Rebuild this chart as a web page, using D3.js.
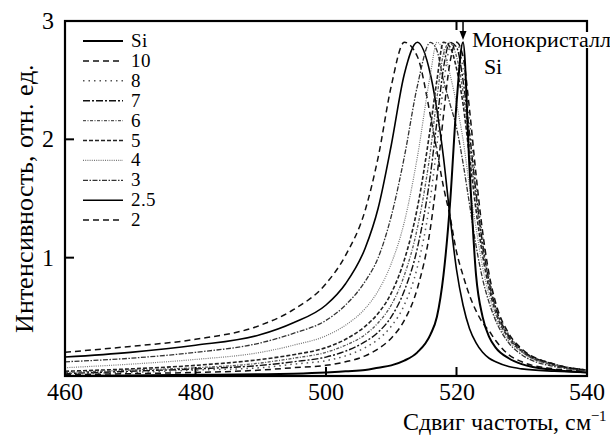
<!doctype html>
<html>
<head>
<meta charset="UTF-8">
<script src="https://cdn.jsdelivr.net/npm/d3@7"></script>
<style>
    @font-face { font-family: 'ChartSerif'; src: local('Liberation Serif'), local('LiberationSerif'), local('LiberationSerif-Regular'); }
    body { margin: 0; font-family: 'ChartSerif', 'Liberation Serif', 'Times New Roman', Times, serif; }
    svg, svg text, svg tspan { font-family: 'ChartSerif', 'Liberation Serif', 'Times New Roman', Times, serif !important; }
</style>
</head>
<body>
<svg class="t" width="610" height="435" style="font-family: 'Liberation Serif', serif"></svg>
<script>
    // frequency grid, cm^-1
    var shift = [460, 470, 480, 490, 495, 500, 503, 506, 508, 510, 512, 514, 516, 517, 518, 519, 520, 521, 522, 523, 524, 525, 526, 528, 530, 535, 540];

    var sSi  = [0.0, 0.005, 0.01, 0.015, 0.02, 0.03, 0.04, 0.05, 0.07, 0.09, 0.13, 0.2, 0.35, 0.5, 0.85, 1.45, 2.3, 2.82, 1.75, 0.85, 0.5, 0.33, 0.24, 0.15, 0.1, 0.05, 0.03];
    var s10  = [0.01, 0.02, 0.03, 0.05, 0.07, 0.09, 0.12, 0.17, 0.23, 0.32, 0.47, 0.74, 1.25, 1.68, 2.2, 2.65, 2.82, 2.7, 2.25, 1.7, 1.22, 0.86, 0.62, 0.36, 0.23, 0.1, 0.05];
    var s8   = [0.02, 0.03, 0.05, 0.07, 0.1, 0.13, 0.17, 0.24, 0.31, 0.42, 0.6, 0.92, 1.5, 1.95, 2.45, 2.78, 2.82, 2.6, 2.15, 1.62, 1.17, 0.83, 0.6, 0.35, 0.22, 0.1, 0.05];
    var s7   = [0.02, 0.04, 0.06, 0.09, 0.12, 0.16, 0.21, 0.29, 0.37, 0.5, 0.72, 1.08, 1.7, 2.15, 2.6, 2.82, 2.78, 2.5, 2.05, 1.55, 1.12, 0.8, 0.58, 0.34, 0.22, 0.1, 0.05];
    var s6   = [0.03, 0.05, 0.07, 0.11, 0.15, 0.2, 0.26, 0.35, 0.45, 0.6, 0.85, 1.25, 1.9, 2.35, 2.72, 2.82, 2.7, 2.4, 1.95, 1.5, 1.08, 0.78, 0.56, 0.33, 0.21, 0.09, 0.05];
    var s5   = [0.04, 0.06, 0.09, 0.14, 0.18, 0.24, 0.31, 0.42, 0.53, 0.7, 0.98, 1.42, 2.1, 2.5, 2.82, 2.78, 2.6, 2.3, 1.85, 1.4, 1.02, 0.74, 0.54, 0.32, 0.21, 0.09, 0.05];
    var s4   = [0.07, 0.1, 0.14, 0.2, 0.26, 0.34, 0.43, 0.57, 0.72, 0.95, 1.3, 1.85, 2.55, 2.82, 2.75, 2.55, 2.3, 2.0, 1.6, 1.25, 0.92, 0.68, 0.5, 0.3, 0.2, 0.09, 0.05];
    var s3   = [0.12, 0.15, 0.2, 0.28, 0.36, 0.47, 0.6, 0.8, 1.0, 1.35, 1.85, 2.45, 2.82, 2.75, 2.5, 2.3, 2.1, 1.8, 1.45, 1.1, 0.82, 0.62, 0.47, 0.28, 0.18, 0.08, 0.05];
    var s25  = [0.16, 0.2, 0.26, 0.35, 0.45, 0.6, 0.78, 1.08, 1.42, 1.95, 2.55, 2.82, 2.55, 2.25, 1.85, 1.35, 0.9, 0.6, 0.4, 0.28, 0.2, 0.15, 0.12, 0.08, 0.06, 0.04, 0.03];
    var s2   = [0.2, 0.25, 0.31, 0.43, 0.56, 0.78, 1.02, 1.4, 1.85, 2.45, 2.82, 2.7, 2.2, 1.9, 1.6, 1.35, 1.05, 0.85, 0.68, 0.55, 0.45, 0.38, 0.3, 0.18, 0.12, 0.06, 0.04];

    var labels = ['Si', '10', '8', '7', '6', '5', '4', '3', '2.5', '2'];
    var xTicks = [460, 480, 500, 520, 540];
    var yTicks = [1, 2, 3];

    var series = [sSi, s10, s8, s7, s6, s5, s4, s3, s25, s2];
    var styles = [
        {dash: null, w: 2, c: '#000'},
        {dash: '6,4', w: 1.5, c: '#111'},
        {dash: '1.5,4', w: 1.5, c: '#555'},
        {dash: '7,2,2,2', w: 1.4, c: '#111'},
        {dash: '3,1.5,1,1.5', w: 1.3, c: '#555'},
        {dash: '4,2', w: 1.6, c: '#222'},
        {dash: '1,1.2', w: 1.2, c: '#777'},
        {dash: '5,1.5,1.5,1.5', w: 1.3, c: '#333'},
        {dash: null, w: 1.6, c: '#000'},
        {dash: '6,4', w: 1.5, c: '#111'}
    ];

    var svg = d3.select('.t');
    var mL = 65, mR = 587, mT = 21, mB = 376;

    var x = d3.scaleLinear().domain([460, 540]).range([mL, mR]);
    var y = d3.scaleLinear().domain([0, 3]).range([mB, mT]);

    var line = d3.line()
        .x(function (d, i) { return x(shift[i]); })
        .y(function (d) { return y(d); })
        .curve(d3.curveMonotoneX);

    var plot = svg.append('g');
    // draw back to front so Si ends on top
    for (var i = series.length - 1; i >= 0; i--) {
        plot.append('path')
            .attr('d', line(series[i]))
            .attr('fill', 'none')
            .attr('stroke', styles[i].c)
            .attr('stroke-width', styles[i].w)
            .attr('stroke-dasharray', styles[i].dash);
    }

    // frame
    svg.append('rect')
        .attr('x', mL).attr('y', mT)
        .attr('width', mR - mL).attr('height', mB - mT)
        .attr('fill', 'none').attr('stroke', '#000').attr('stroke-width', 2.2);

    // inward ticks
    svg.append('g').selectAll('line').data(xTicks.slice(1, -1)).enter().append('line')
        .attr('x1', function (d) { return x(d); }).attr('x2', function (d) { return x(d); })
        .attr('y1', mB).attr('y2', mB - 9)
        .attr('stroke', '#000').attr('stroke-width', 2);
    svg.append('g').selectAll('line').data(yTicks.slice(0, -1)).enter().append('line')
        .attr('x1', mL).attr('x2', mL + 9)
        .attr('y1', function (d) { return y(d); }).attr('y2', function (d) { return y(d); })
        .attr('stroke', '#000').attr('stroke-width', 2);
    svg.append('line')
        .attr('x1', x(520)).attr('x2', x(520)).attr('y1', mT).attr('y2', mT + 9)
        .attr('stroke', '#000').attr('stroke-width', 2);

    function txt(sel, size) {
        return sel.append('text')
            .attr('font-family', 'Liberation Serif')
            .attr('font-size', size);
    }

    // tick labels
    xTicks.forEach(function (d) {
        txt(svg, 24).attr('x', x(d)).attr('y', 400)
            .attr('text-anchor', 'middle').text(d);
    });
    yTicks.forEach(function (d) {
        txt(svg, 24).attr('x', 54).attr('y', y(d) + 8)
            .attr('text-anchor', 'end').text(d);
    });

    // axis titles
    var xt = txt(svg, 24).attr('x', 607).attr('y', 430)
        .attr('text-anchor', 'end');
    xt.append('tspan').text('Сдвиг частоты, см');
    xt.append('tspan').attr('dy', -9).attr('font-size', 15).text('−1');

    txt(svg, 26)
        .attr('transform', 'translate(33,198) rotate(-90)')
        .attr('text-anchor', 'middle')
        .text('Интенсивность, отн. ед.');

    // legend
    var leg = svg.append('g');
    labels.forEach(function (lab, i) {
        var ly = 41 + i * 19.9;
        leg.append('line')
            .attr('x1', 83).attr('x2', 123).attr('y1', ly).attr('y2', ly)
            .attr('stroke', styles[i].c)
            .attr('stroke-width', styles[i].w)
            .attr('stroke-dasharray', styles[i].dash);
        txt(leg, 19).attr('x', 131).attr('y', ly + 6).text(lab);
    });

    // annotation: monocrystal Si (white patch breaks the right frame behind the label)
    var ann = svg.append('g');
    ann.append('rect').attr('x', 470).attr('y', 32).attr('width', 140).attr('height', 16).attr('fill', '#fff');
    txt(ann, 22).attr('x', 472).attr('y', 47).text('Монокристалл');
    txt(ann, 22).attr('x', 484).attr('y', 74).text('Si');

    var ax = x(521);
    svg.append('line').attr('x1', ax).attr('x2', ax).attr('y1', mT).attr('y2', 32)
        .attr('stroke', '#000').attr('stroke-width', 1.5);
    svg.append('path')
        .attr('d', 'M' + (ax - 3.5) + ',31 L' + (ax + 3.5) + ',31 L' + ax + ',40 Z')
        .attr('fill', '#000');
</script>
</body>
</html>
